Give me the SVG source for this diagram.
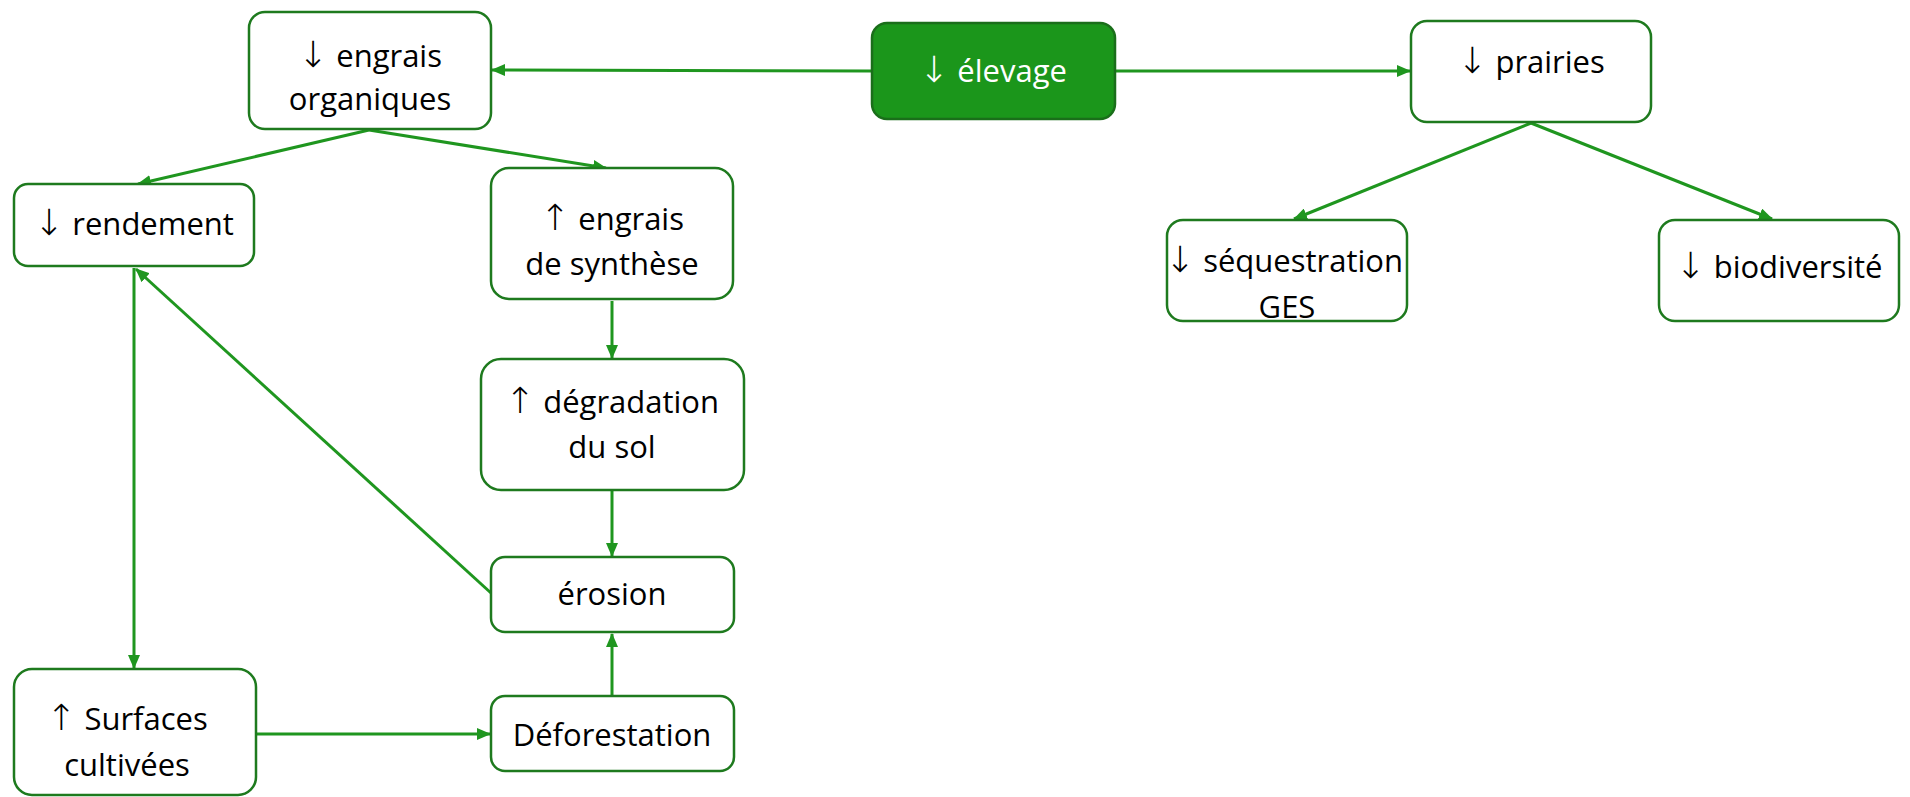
<svg xmlns="http://www.w3.org/2000/svg" width="1910" height="797" viewBox="0 0 1910 797">
<defs>
<marker id="ah" markerUnits="userSpaceOnUse" markerWidth="14" markerHeight="12" refX="13" refY="6" orient="auto">
<path d="M0,0 L14,6 L0,12 Z" fill="#1f961f"/>
</marker>
<style>
.box{fill:#ffffff;stroke:#1e7a1e;stroke-width:2.5}
.dark{fill:#1b961b;stroke:#1a6e1a;stroke-width:2.5}
.t{font-family:"Open Sans","Noto Sans",sans-serif;font-size:31px;fill:#000;text-anchor:middle}
.a{font-family:"DejaVu Sans",sans-serif;font-size:36px;font-weight:200}
.w{fill:#ffffff}
.c{fill:none;stroke:#1f961f;stroke-width:3;marker-end:url(#ah)}
</style>
</defs>
<rect width="1910" height="797" fill="#ffffff"/>
<g id="connectors">
<line class="c" x1="872" y1="71" x2="492" y2="70"/>
<line class="c" x1="1115" y1="71" x2="1410" y2="71"/>
<line class="c" x1="369" y1="130" x2="138" y2="184"/>
<line class="c" x1="369" y1="130" x2="606" y2="168"/>
<line class="c" x1="612" y1="301" x2="612" y2="358"/>
<line class="c" x1="612" y1="491" x2="612" y2="556"/>
<line class="c" x1="612" y1="696" x2="612" y2="634"/>
<line class="c" x1="256" y1="734" x2="490" y2="734"/>
<line class="c" x1="134" y1="268" x2="134" y2="668"/>
<line class="c" x1="491" y1="593" x2="136" y2="269"/>
<line class="c" x1="1531" y1="123" x2="1294" y2="219"/>
<line class="c" x1="1531" y1="123" x2="1772" y2="219"/>
</g>
<g id="elevage">
<rect class="dark" x="872" y="23" width="243" height="96" rx="15"/>
<text class="t w" x="993" y="82"><tspan class="a">↓</tspan> élevage</text>
</g>
<g id="engrais-organiques">
<rect class="box" x="249" y="12" width="242" height="117" rx="16"/>
<text class="t" x="370" y="67"><tspan class="a">↓</tspan> engrais</text>
<text class="t" x="370" y="110">organiques</text>
</g>
<g id="prairies">
<rect class="box" x="1411" y="21" width="240" height="101" rx="16"/>
<text class="t" x="1531" y="73"><tspan class="a">↓</tspan> prairies</text>
</g>
<g id="rendement">
<rect class="box" x="14" y="184" width="240" height="82" rx="14"/>
<text class="t" x="134" y="235"><tspan class="a">↓</tspan> rendement</text>
</g>
<g id="engrais-synthese">
<rect class="box" x="491" y="168" width="242" height="131" rx="18"/>
<text class="t" x="612" y="230"><tspan class="a">↑</tspan> engrais</text>
<text class="t" x="612" y="275">de synthèse</text>
</g>
<g id="sequestration">
<rect class="box" x="1167" y="220" width="240" height="101" rx="16"/>
<text class="t" x="1284" y="272"><tspan class="a">↓</tspan> séquestration</text>
<text class="t" x="1287" y="318">GES</text>
</g>
<g id="biodiversite">
<rect class="box" x="1659" y="220" width="240" height="101" rx="16"/>
<text class="t" x="1779" y="278"><tspan class="a">↓</tspan> biodiversité</text>
</g>
<g id="degradation">
<rect class="box" x="481" y="359" width="263" height="131" rx="20"/>
<text class="t" x="612" y="413"><tspan class="a">↑</tspan> dégradation</text>
<text class="t" x="612" y="458">du sol</text>
</g>
<g id="erosion">
<rect class="box" x="491" y="557" width="243" height="75" rx="14"/>
<text class="t" x="612" y="605">érosion</text>
</g>
<g id="deforestation">
<rect class="box" x="491" y="696" width="243" height="75" rx="14"/>
<text class="t" x="612" y="746">Déforestation</text>
</g>
<g id="surfaces">
<rect class="box" x="14" y="669" width="242" height="126" rx="18"/>
<text class="t" x="127" y="730"><tspan class="a">↑</tspan> Surfaces</text>
<text class="t" x="127" y="776">cultivées</text>
</g>
</svg>
